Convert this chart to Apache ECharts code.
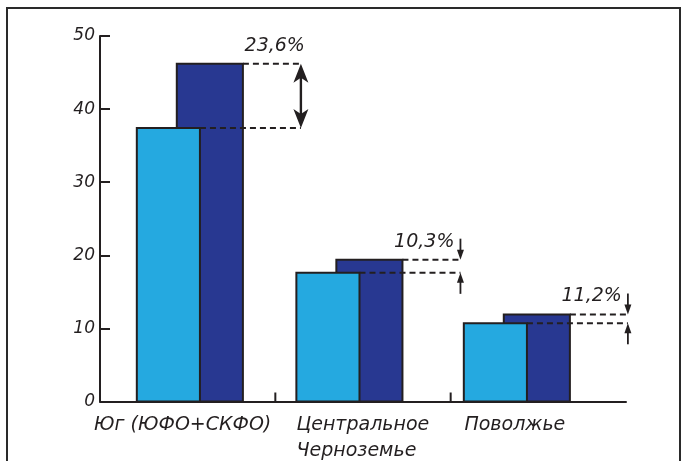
<!DOCTYPE html>
<html><head><meta charset="utf-8">
<script src="https://cdn.jsdelivr.net/npm/echarts@6/dist/echarts.min.js"></script>
<style>html,body{margin:0;padding:0;background:#fff}#c{width:683px;height:461px}</style>
</head><body><div id="c"></div>
<script>
// ---- data ----
const categories = ['Юг (ЮФО+СКФО)', 'Центральное\nЧерноземье', 'Поволжье'];
const valuesLight = [37.4, 17.6, 10.7];
const valuesDark = [46.2, 19.4, 11.9];
const growthLabels = ['23,6%', '10,3%', '11,2%'];
const yTickValues = [0, 10, 20, 30, 40, 50];

// ---- style / layout ----
const FONT = 'DejaVu Sans';
const INK = '#231f20';
const LIGHT = '#25a9e0';
const DARK = '#283891';
const pairShift = [-0.29, -0.38, -0.425];
const lightW = 0.36, darkOff = 0.228, darkW = 0.377;
const arrowGap = 58;

function renderPair(params, api) {
  const i = api.value(0);
  const vL = api.value(1), vD = api.value(2);
  const band = api.size([1, 0])[0];
  const c0 = api.coord([i, 0]);
  const yL = api.coord([i, vL])[1], yD = api.coord([i, vD])[1];
  const lx = c0[0] + pairShift[i] * band;
  const lw = lightW * band, dx = lx + darkOff * band, dw = darkW * band;
  const ax = dx + dw + arrowGap;
  const dash = {stroke: INK, lineWidth: 2, lineDash: [6, 4]};
  const ch = [
    {type: 'rect', shape: {x: dx, y: yD, width: dw, height: c0[1] - yD}, style: {fill: DARK, stroke: INK, lineWidth: 2}},
    {type: 'rect', shape: {x: lx, y: yL, width: lw, height: c0[1] - yL}, style: {fill: LIGHT, stroke: INK, lineWidth: 2}},
    {type: 'line', shape: {x1: lx + lw, y1: yL, x2: ax, y2: yL}, style: dash},
    {type: 'line', shape: {x1: dx + dw, y1: yD, x2: ax, y2: yD}, style: dash}
  ];
  const txt = {align: 'right', verticalAlign: 'middle', fontFamily: FONT, fontStyle: 'italic', fontSize: 19, fill: INK};
  if (i === 0) {
    ch.push({type: 'line', shape: {x1: ax, y1: yD + 8, x2: ax, y2: yL - 8}, style: {stroke: INK, lineWidth: 2.4}});
    ch.push({type: 'polygon', shape: {points: [[ax, yD], [ax - 7.5, yD + 19], [ax, yD + 14], [ax + 7.5, yD + 19]]}, style: {fill: INK}});
    ch.push({type: 'polygon', shape: {points: [[ax, yL], [ax - 7.5, yL - 19], [ax, yL - 14], [ax + 7.5, yL - 19]]}, style: {fill: INK}});
    ch.push({type: 'text', style: Object.assign({x: ax + 4, y: yD - 18, text: growthLabels[i]}, txt)});
  } else {
    ch.push({type: 'line', shape: {x1: ax, y1: yD - 21, x2: ax, y2: yD - 4}, style: {stroke: INK, lineWidth: 1.8}});
    ch.push({type: 'polygon', shape: {points: [[ax, yD], [ax - 3.5, yD - 10], [ax + 3.5, yD - 10]]}, style: {fill: INK}});
    ch.push({type: 'line', shape: {x1: ax, y1: yL + 21, x2: ax, y2: yL + 4}, style: {stroke: INK, lineWidth: 1.8}});
    ch.push({type: 'polygon', shape: {points: [[ax, yL], [ax - 3.5, yL + 10], [ax + 3.5, yL + 10]]}, style: {fill: INK}});
    ch.push({type: 'text', style: Object.assign({x: ax - 6, y: yD - 18, text: growthLabels[i]}, txt)});
    // category boundary tick on the x axis
    ch.push({type: 'line', shape: {x1: c0[0] - band / 2, y1: c0[1], x2: c0[0] - band / 2, y2: c0[1] - 9}, style: {stroke: INK, lineWidth: 2}});
  }
  return {type: 'group', children: ch};
}

const lbl = {fontFamily: FONT, fontStyle: 'italic', fontSize: 19, color: INK, lineHeight: 26};
const chart = echarts.init(document.getElementById('c'));
chart.setOption({
  animation: false,
  backgroundColor: '#fff',
  graphic: [{type: 'rect', shape: {x: 7, y: 8, width: 673, height: 480}, style: {fill: 'none', stroke: '#2a2a2a', lineWidth: 2}, silent: true}],
  grid: {left: 100, right: 57, top: 36, bottom: 54},
  xAxis: {
    type: 'category', data: categories,
    axisLine: {lineStyle: {color: INK, width: 2}},
    axisTick: {show: false},
    axisLabel: {
      margin: 11, interval: 0,
      formatter: function (v, idx) {
        if (idx === 0) return '{a|' + v + '}';
        if (idx === 1) return v.split('\n').map(s => '{b|' + s + '}').join('\n');
        return '{c|' + v + '}';
      },
      rich: {
        a: Object.assign({padding: [0, 10, 0, 0]}, lbl),
        b: Object.assign({width: 133, align: 'left'}, lbl),
        c: Object.assign({padding: [0, 47, 0, 0]}, lbl)
      }
    }
  },
  yAxis: {
    type: 'value', min: yTickValues[0], max: yTickValues[yTickValues.length - 1], interval: 10,
    axisLine: {show: true, lineStyle: {color: INK, width: 2}},
    axisTick: {show: true, inside: true, length: 10, lineStyle: {color: INK, width: 2}},
    splitLine: {show: false},
    axisLabel: {margin: 5, fontFamily: FONT, fontStyle: 'italic', fontSize: 17, color: INK,
      formatter: v => yTickValues.indexOf(v) >= 0 ? String(v) : ''}
  },
  series: [{
    type: 'custom',
    renderItem: renderPair,
    encode: {x: 0, y: [1, 2]},
    data: categories.map((c, i) => [i, valuesLight[i], valuesDark[i]]),
    clip: false
  }]
});
</script></body></html>
